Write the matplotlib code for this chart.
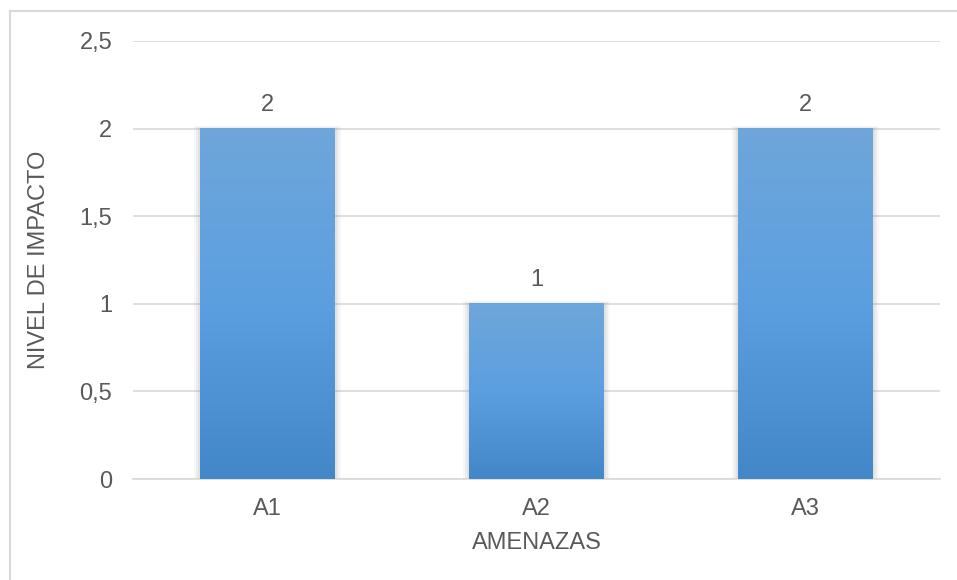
import matplotlib
matplotlib.use("Agg")
import matplotlib.pyplot as plt
import numpy as np
from matplotlib.patches import Rectangle
from matplotlib.colors import LinearSegmentedColormap

plt.rcParams['font.family'] = ['Liberation Sans', 'DejaVu Sans']

categories = ["A1", "A2", "A3"]
values = [2, 1, 2]
y_ticks = [0, 0.5, 1, 1.5, 2, 2.5]
y_tick_labels = ["0", "0,5", "1", "1,5", "2", "2,5"]

W, H = 957, 580
fig = plt.figure(figsize=(W / 100, H / 100), dpi=100)
ax = fig.add_axes([133 / W, 1 - 479 / H, (940 - 133) / W, (479 - 41) / H])

text_color = "#595959"
grid_color = "#d9d9d9"
bar_width = 0.5
fs = 17

cmap = LinearSegmentedColormap.from_list("bar", ["#4287c8", "#5b9fe0", "#6fa6da"])
grad = np.linspace(0, 1, 256).reshape(-1, 1)

x = np.arange(len(categories))

for xi, v in zip(x, values):
    # soft shadow around each bar
    for k, a in zip([0.022, 0.014, 0.007], [0.06, 0.08, 0.10]):
        ax.add_patch(Rectangle((xi - bar_width / 2 - k, 0), bar_width + 2 * k, v + k * 0.6,
                               facecolor="#808080", edgecolor="none", alpha=a, zorder=2))
    ax.imshow(grad, cmap=cmap, origin="lower", aspect="auto",
              extent=[xi - bar_width / 2, xi + bar_width / 2, 0, v], zorder=3)
    ax.annotate(f"{v}", xy=(xi, v), xytext=(0, 9), textcoords="offset points",
                ha="center", va="bottom", fontsize=fs, color=text_color)

ax.set_xlim(-0.5, len(categories) - 0.5)
ax.set_ylim(0, 2.5)

ax.set_yticks(y_ticks)
ax.set_yticklabels(y_tick_labels)
ax.set_xticks(x)
ax.set_xticklabels(categories)
ax.tick_params(axis="both", length=0, labelsize=fs, colors=text_color)
ax.tick_params(axis="y", pad=15)
ax.tick_params(axis="x", pad=14)

ax.yaxis.grid(True, color=grid_color, linewidth=1.2, zorder=0)
ax.set_axisbelow(True)
for s in ["top", "right", "left"]:
    ax.spines[s].set_visible(False)
ax.spines["bottom"].set_color(grid_color)
ax.spines["bottom"].set_linewidth(1.2)

ax.set_xlabel("AMENAZAS", fontsize=fs, color=text_color, labelpad=8)
ax.set_ylabel("NIVEL DE IMPACTO", fontsize=fs, color=text_color, labelpad=21)

# outer chart border
fig.add_artist(Rectangle((9.5 / W, -0.05), 1.1, 1 - 11 / H + 0.05, transform=fig.transFigure,
                         facecolor="none", edgecolor=grid_color, linewidth=1.5))

fig.savefig("out.png", dpi=100)
